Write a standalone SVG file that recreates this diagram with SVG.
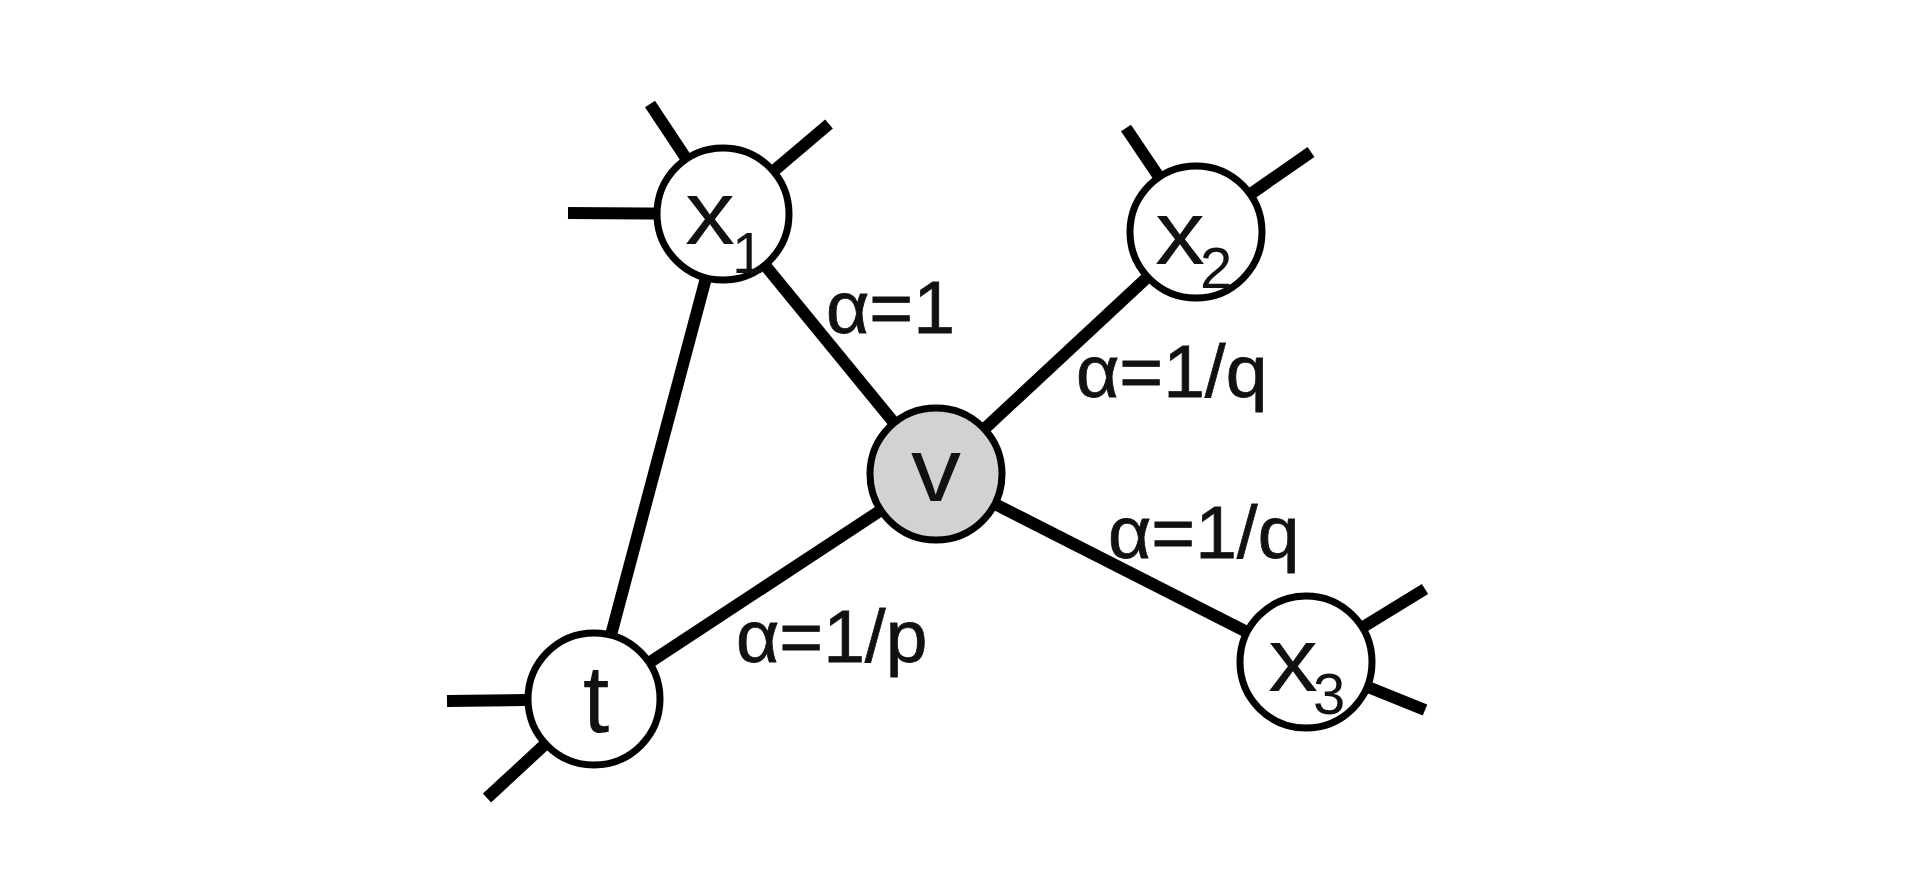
<svg xmlns="http://www.w3.org/2000/svg" width="1920" height="871" viewBox="0 0 1920 871">
<style>
.e{stroke:#000;stroke-width:12;fill:none}
.n{fill:#fff;stroke:#000;stroke-width:7}
.g{fill:#d2d2d4}
.t{font-family:"Liberation Sans",Arial,sans-serif;fill:#111}
.big{font-size:90px}
.sub{font-size:58px}
.lab{font-size:75px;stroke:#111;stroke-width:0.8}
</style>
<rect width="1920" height="871" fill="#fff"/>
<g id="connectors">
<line class="e" x1="723" y1="214" x2="936" y2="474"/>
<line class="e" x1="723" y1="214" x2="594" y2="699"/>
<line class="e" x1="936" y1="474" x2="1196" y2="232"/>
<line class="e" x1="936" y1="474" x2="1306" y2="662"/>
<line class="e" x1="936" y1="474" x2="594" y2="699"/>
<line class="e" x1="568" y1="213" x2="723" y2="214"/>
<line class="e" x1="650" y1="104" x2="723" y2="214"/>
<line class="e" x1="829" y1="124" x2="723" y2="214"/>
<line class="e" x1="1126" y1="128" x2="1196" y2="232"/>
<line class="e" x1="1311" y1="152" x2="1196" y2="232"/>
<line class="e" x1="447" y1="701" x2="594" y2="699"/>
<line class="e" x1="487" y1="798" x2="594" y2="699"/>
<line class="e" x1="1425" y1="589" x2="1306" y2="662"/>
<line class="e" x1="1425" y1="710" x2="1306" y2="662"/>
</g>
<g id="node-x1">
<circle class="n" cx="723" cy="214" r="66"/>
<text class="t big" x="685" y="244" textLength="50" lengthAdjust="spacingAndGlyphs">x</text><text class="t sub" x="732" y="273">1</text>
</g>
<g id="node-x2">
<circle class="n" cx="1196" cy="232" r="66"/>
<text class="t big" x="1155" y="264" textLength="50" lengthAdjust="spacingAndGlyphs">x</text><text class="t sub" x="1200" y="288">2</text>
</g>
<g id="node-v">
<circle class="n g" cx="936" cy="474" r="66"/>
<text class="t big" x="911" y="501" textLength="50" lengthAdjust="spacingAndGlyphs">v</text>
</g>
<g id="node-t">
<circle class="n" cx="594" cy="699" r="66"/>
<text class="t" style="font-size:96px" x="596" y="732" text-anchor="middle">t</text>
</g>
<g id="node-x3">
<circle class="n" cx="1306" cy="662" r="66"/>
<text class="t big" x="1268" y="691" textLength="50" lengthAdjust="spacingAndGlyphs">x</text><text class="t sub" x="1313" y="714">3</text>
</g>
<g id="labels">
<text class="t lab" x="826" y="333">α=1</text>
<text class="t lab" x="1076" y="397">α=1/q</text>
<text class="t lab" x="1108" y="558">α=1/q</text>
<text class="t lab" x="736" y="662">α=1/p</text>
</g>
</svg>
